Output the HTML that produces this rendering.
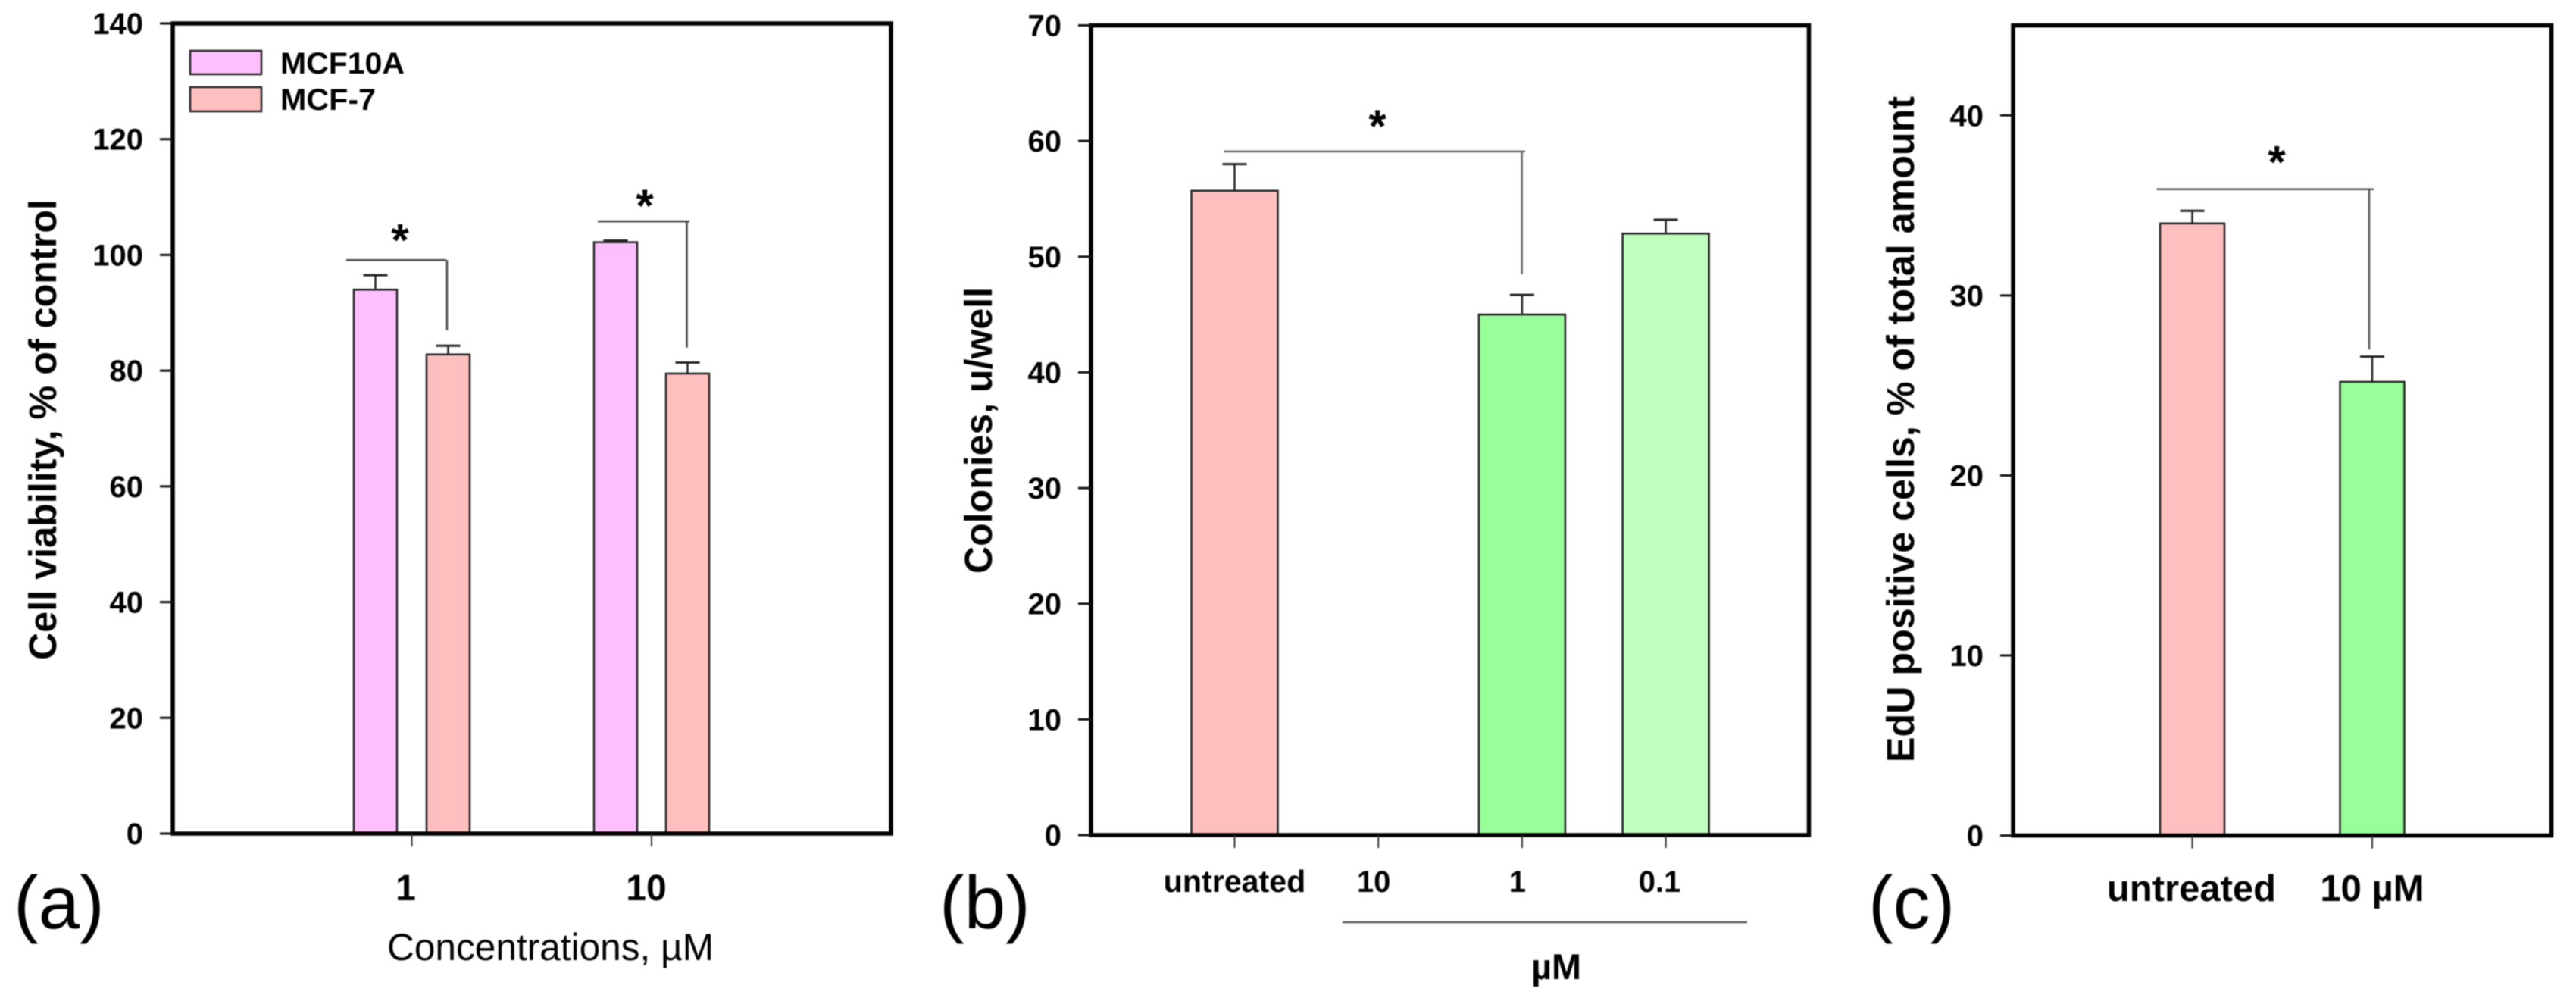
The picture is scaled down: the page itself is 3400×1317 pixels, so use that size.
<!DOCTYPE html>
<html lang="en">
<head>
<meta charset="utf-8">
<title>Cell viability, colonies and EdU bar charts</title>
<style>
html,body{margin:0;padding:0;background:#fff;width:3400px;height:1317px;overflow:hidden}
svg{display:block;filter:blur(0.7px)}
text{font-family:"Liberation Sans",sans-serif;fill:#000}
.b{font-weight:700}
</style>
</head>
<body>
<svg id="figure" xmlns="http://www.w3.org/2000/svg" width="3400" height="1317" viewBox="0 0 3400 1317">
  <rect x="0" y="0" width="3400" height="1317" fill="#fff"/>

  <g id="panel-a"></g>
  <g id="panel-b"></g>
  <g id="panel-c"></g>

  <text class="b" font-size="51" transform="translate(74,871) rotate(-90)" textLength="608" lengthAdjust="spacingAndGlyphs">Cell viability, % of control</text>
  <text class="b" font-size="51" transform="translate(1309,757) rotate(-90)" textLength="378" lengthAdjust="spacingAndGlyphs">Colonies, u/well</text>
  <text class="b" font-size="51" transform="translate(2526,1006) rotate(-90)" textLength="879" lengthAdjust="spacingAndGlyphs">EdU positive cells, % of total amount</text>

  <text font-size="50" x="511" y="1267" textLength="431" lengthAdjust="spacingAndGlyphs">Concentrations, µM</text>
  <line x1="1772" y1="1217" x2="2306" y2="1217" stroke="#555" stroke-width="2.5"/>
  <text class="b" font-size="47" x="2021" y="1292" textLength="66" lengthAdjust="spacingAndGlyphs">µM</text>

  <text font-size="98" x="18" y="1225">(a)</text>
  <text font-size="98" x="1240" y="1225">(b)</text>
  <text font-size="98" x="2466" y="1225">(c)</text>

  <g id="legend">
    <g>
      <rect x="251" y="67" width="94" height="31" fill="#FFBFFF" stroke="#222" stroke-width="2.5"/>
      <text class="b" font-size="40" x="370" y="97" textLength="164" lengthAdjust="spacingAndGlyphs">MCF10A</text>
    </g>
    <g>
      <rect x="251" y="115" width="94" height="32" fill="#FFBFBF" stroke="#222" stroke-width="2.5"/>
      <text class="b" font-size="40" x="370" y="145" textLength="126" lengthAdjust="spacingAndGlyphs">MCF-7</text>
    </g>
  </g>
</svg>

<script>
// ---- Panel (a) data ----
const aCategories = ['1', '10'];
const aMcf10aValues = [94.0, 102.2];
const aMcf10aErrors = [2.5, 0.3];
const aMcf7Values = [82.8, 79.5];
const aMcf7Errors = [1.5, 1.9];
const aYTicks = [0, 20, 40, 60, 80, 100, 120, 140];
const aBracketLevels = [99.1, 105.8];
const aBracketEnds = [87, 84];

// ---- Panel (b) data ----
const bCategories = ['untreated', '10', '1', '0.1'];
const bValues = [55.7, 0, 45.0, 52.0];
const bErrors = [2.3, 0, 1.7, 1.2];
const bYTicks = [0, 10, 20, 30, 40, 50, 60, 70];
const bBracketLevels = [59.1];
const bBracketEnds = [48.5];

// ---- Panel (c) data ----
const cCategories = ['untreated', '10 µM'];
const cValues = [34.0, 25.2];
const cErrors = [0.7, 1.4];
const cYTicks = [0, 10, 20, 30, 40];
const cBracketLevels = [35.9];
const cBracketEnds = [27.0];

const NS = 'http://www.w3.org/2000/svg';

function make(parent, tag, attrs, txt) {
  const el = document.createElementNS(NS, tag);
  for (const k in attrs) el.setAttribute(k, attrs[k]);
  if (txt !== undefined) el.textContent = txt;
  parent.appendChild(el);
  return el;
}

function axes(left, right, top, bottom, yMax, firstTick, tickStep) {
  return {
    y: function (v) { return bottom - (v / yMax) * (bottom - top); },
    x: function (i) { return firstTick + i * tickStep; }
  };
}

function drawFrame(g, left, right, top, bottom) {
  const frame = make(g, 'rect', {x: left, y: top, width: right - left, height: bottom - top, fill: 'none', stroke: '#000', 'stroke-width': 5.5});
  
  
}

function drawYAxis(g, ticks, scale, left, labelRight) {
  ticks.forEach(function (t) {
    const py = scale.y(t);
    const tick = make(g, 'line', {x1: left - 17, y1: py, x2: left, y2: py, stroke: '#111', 'stroke-width': 3});
    
    
    const label = make(g, 'text', {x: labelRight, y: py + 14, 'font-size': 40, 'text-anchor': 'end', 'class': 'b'}, String(t));
    
    
  });
}

function drawXAxis(g, categories, scale, bottom, baseline, size, labelDx, labelScale) {
  categories.forEach(function (c, i) {
    const px = scale.x(i);
    const tick = make(g, 'line', {x1: px, y1: bottom, x2: px, y2: bottom + 17, stroke: '#333', 'stroke-width': 2});
    
    
    const label = make(g, 'text', {x: px + labelDx[i], y: baseline, 'font-size': c === 'untreated' ? size * labelScale : size, 'text-anchor': 'middle', 'class': 'b'}, c);
    
    
  });
}

function drawBar(g, name, cx, width, value, err, fill, scale, bottom) {
  if (value <= 0) return;
  const top = scale.y(value);
  const errTop = scale.y(value + err);
  const stem = make(g, 'line', {x1: cx, y1: top, x2: cx, y2: errTop, stroke: '#222', 'stroke-width': 2.5});
  
  
  const cap = make(g, 'line', {x1: cx - 16, y1: errTop, x2: cx + 16, y2: errTop, stroke: '#222', 'stroke-width': 3});
  
  
  const bar = make(g, 'rect', {x: cx - width / 2, y: top, width: width, height: bottom - top, fill: fill, stroke: '#222', 'stroke-width': 2.5});
  
  
}

function drawBracket(g, name, x1, x2, xv, level, end, starX, starGap, scale, color) {
  const yL = scale.y(level);
  const yE = scale.y(end);
  const h = make(g, 'line', {x1: x1, y1: yL, x2: x2, y2: yL, stroke: color, 'stroke-width': 2.5});
  
  
  const v = make(g, 'line', {x1: xv, y1: yL, x2: xv, y2: yE, stroke: color, 'stroke-width': 2.5});
  
  
  const star = make(g, 'text', {x: starX, y: yL - starGap + 29, 'font-size': 60, 'text-anchor': 'middle', 'class': 'b'}, '*');
  
  
}

// Panel (a)
(function () {
  const g = document.getElementById('panel-a');
  const s = axes(228, 1176, 31, 1100, 140, 543.5, 316.5);
  drawBar(g, 'bar-mcf10a-1', s.x(0) - 48, 57, aMcf10aValues[0], aMcf10aErrors[0], '#FFBFFF', s, 1100);
  drawBar(g, 'bar-mcf7-1', s.x(0) + 48, 57, aMcf7Values[0], aMcf7Errors[0], '#FFBFBF', s, 1100);
  drawBar(g, 'bar-mcf10a-10', s.x(1) - 47.5, 57, aMcf10aValues[1], aMcf10aErrors[1], '#FFBFFF', s, 1100);
  drawBar(g, 'bar-mcf7-10', s.x(1) + 47.5, 57, aMcf7Values[1], aMcf7Errors[1], '#FFBFBF', s, 1100);
  drawFrame(g, 228, 1176, 31, 1100);
  drawYAxis(g, aYTicks, s, 228, 189);
  drawXAxis(g, aCategories, s, 1100, 1188, 48, [-8, -7], 1);
  drawBracket(g, 'bracket-1', 457, 589, 590, aBracketLevels[0], aBracketEnds[0], 528, 35, s, '#444');
  drawBracket(g, 'bracket-10', 789, 910, 906.5, aBracketLevels[1], aBracketEnds[1], 851, 29, s, '#444');
})();

// Panel (b)
(function () {
  const g = document.getElementById('panel-b');
  const s = axes(1440, 2387.5, 33.5, 1102, 70, 1629.5, 189.7);
  const fills = ['#FFBFBF', 'none', '#99FF99', '#C0FFC0'];
  bCategories.forEach(function (c, i) {
    drawBar(g, 'bar-' + c.replace('.', '-'), s.x(i), 114, bValues[i], bErrors[i], fills[i], s, 1102);
  });
  drawFrame(g, 1440, 2387.5, 33.5, 1102);
  drawYAxis(g, bYTicks, s, 1440, 1401);
  drawXAxis(g, bCategories, s, 1102, 1177, 40, [0, -6, -6, -8], 1.03);
  drawBracket(g, 'bracket-untreated-1', 1615.5, 2013, 2008.6, bBracketLevels[0], bBracketEnds[0], 1818, 42, s, '#666');
})();

// Panel (c)
(function () {
  const g = document.getElementById('panel-c');
  const s = axes(2657, 3367.5, 33.5, 1102.6, 45, 2893.5, 237.5);
  const fills = ['#FFBFBF', '#99FF99'];
  cCategories.forEach(function (c, i) {
    drawBar(g, 'bar-' + c.replace(/[^a-z0-9]+/gi, '-'), s.x(i), 85, cValues[i], cErrors[i], fills[i], s, 1102.6);
  });
  drawFrame(g, 2657, 3367.5, 33.5, 1102.6);
  drawYAxis(g, cYTicks, s, 2657, 2618);
  drawXAxis(g, cCategories, s, 1102.6, 1189, 49, [-1, 0], 1);
  drawBracket(g, 'bracket-untreated-10', 2846.5, 3133.4, 3127, cBracketLevels[0], cBracketEnds[0], 3005, 44, s, '#555');
})();
</script>
</body>
</html>
